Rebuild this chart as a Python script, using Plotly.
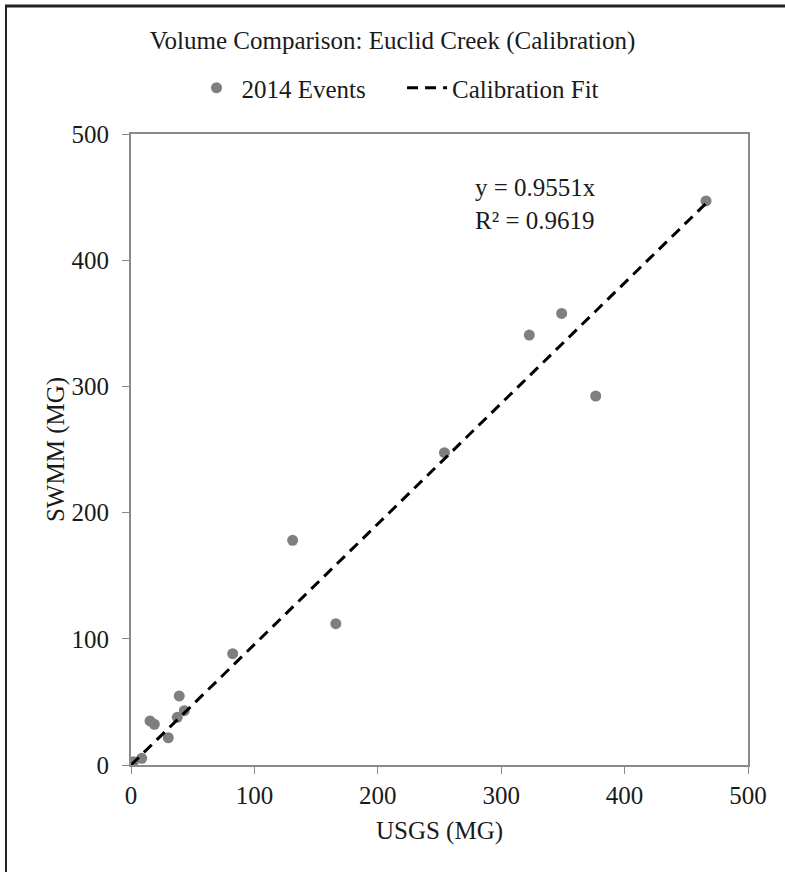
import plotly.graph_objects as go

usgs_mg = [466, 376.6, 349, 322.8, 254, 131, 166, 82.4, 39.1, 43.2, 37.5, 15.4, 18.9, 30.2, 8.7, 1.9]
swmm_mg = [447, 292.4, 357.8, 340.7, 247.5, 178, 112, 88.2, 54.7, 43, 37.8, 34.9, 32.3, 21.6, 5.3, 2.6]
slope = 0.9551
r2 = 0.9619
fit_x = [0, max(usgs_mg)]
fit_y = [slope * v for v in fit_x]
x_ticks = [0, 100, 200, 300, 400, 500]
y_ticks = [0, 100, 200, 300, 400, 500]

FONT = "Liberation Serif, Times New Roman, serif"
TXT = "#1a1a1a"
AX = "#8a8a8a"
FS = 25
NB = "\u00a0"

fig = go.Figure()
fig.add_trace(go.Scatter(x=usgs_mg, y=swmm_mg, mode="markers", name="2014 Events" + NB * 5,
                         marker=dict(color="#7f7f7f", size=11)))
fig.add_trace(go.Scatter(x=fit_x, y=fit_y, mode="lines", name="Calibration Fit",
                         line=dict(color="black", width=3, dash="11px,7px")))

fig.update_layout(
    width=785, height=872,
    paper_bgcolor="white", plot_bgcolor="white",
    margin=dict(l=131, r=37, t=134, b=107),
    font=dict(family=FONT, size=FS, color=TXT),
    title=dict(text="Volume Comparison: Euclid Creek (Calibration)", x=0.5, xanchor="center",
               y=1 - 40 / 872, yanchor="middle", font=dict(size=FS, color=TXT)),
    legend=dict(orientation="h", x=(398 - 131) / 617, xanchor="center", y=(765 - 88) / 631,
                yanchor="middle", font=dict(size=FS, color=TXT), itemwidth=40,
                bgcolor="rgba(0,0,0,0)"),
    showlegend=True,
)
fig.update_xaxes(range=[0, 500], tickvals=x_ticks, ticks="outside", ticklen=7, tickcolor=AX,
                 showline=True, linecolor=AX, linewidth=2, mirror=True, showgrid=False, zeroline=False,
                 title=dict(text="USGS (MG)", font=dict(size=FS, color=TXT), standoff=13),
                 tickfont=dict(size=FS, color=TXT))
fig.update_yaxes(range=[0, 500], tickvals=y_ticks, ticks="outside", ticklen=7, tickcolor=AX,
                 showline=True, linecolor=AX, linewidth=2, mirror=True, showgrid=False, zeroline=False,
                 ticklabelstandoff=8,
                 title=dict(text="SWMM (MG)", font=dict(size=FS, color=TXT), standoff=0),
                 tickfont=dict(size=FS, color=TXT))

fig.add_annotation(x=(473 - 131) / 1.234, y=(765 - 172) / 1.262, xref="x", yref="y",
                   xanchor="left", yanchor="top",
                   text="y = 0.9551x<br>R² = 0.9619", showarrow=False, align="left",
                   font=dict(size=FS, color=TXT))

# partial figure border (left and top edges)
fig.add_shape(type="line", xref="paper", yref="paper",
              x0=(5 - 131) / 617, x1=(785 - 131) / 617,
              y0=(765 - 6) / 631, y1=(765 - 6) / 631,
              line=dict(color="#222", width=3), layer="above")
fig.add_shape(type="line", xref="paper", yref="paper",
              x0=(6 - 131) / 617, x1=(6 - 131) / 617,
              y0=(765 - 880) / 631, y1=(765 - 5) / 631,
              line=dict(color="#222", width=2), layer="above")

fig.write_html("out.html", config={"displayModeBar": False},
               post_script="document.body.style.margin='0px';")
